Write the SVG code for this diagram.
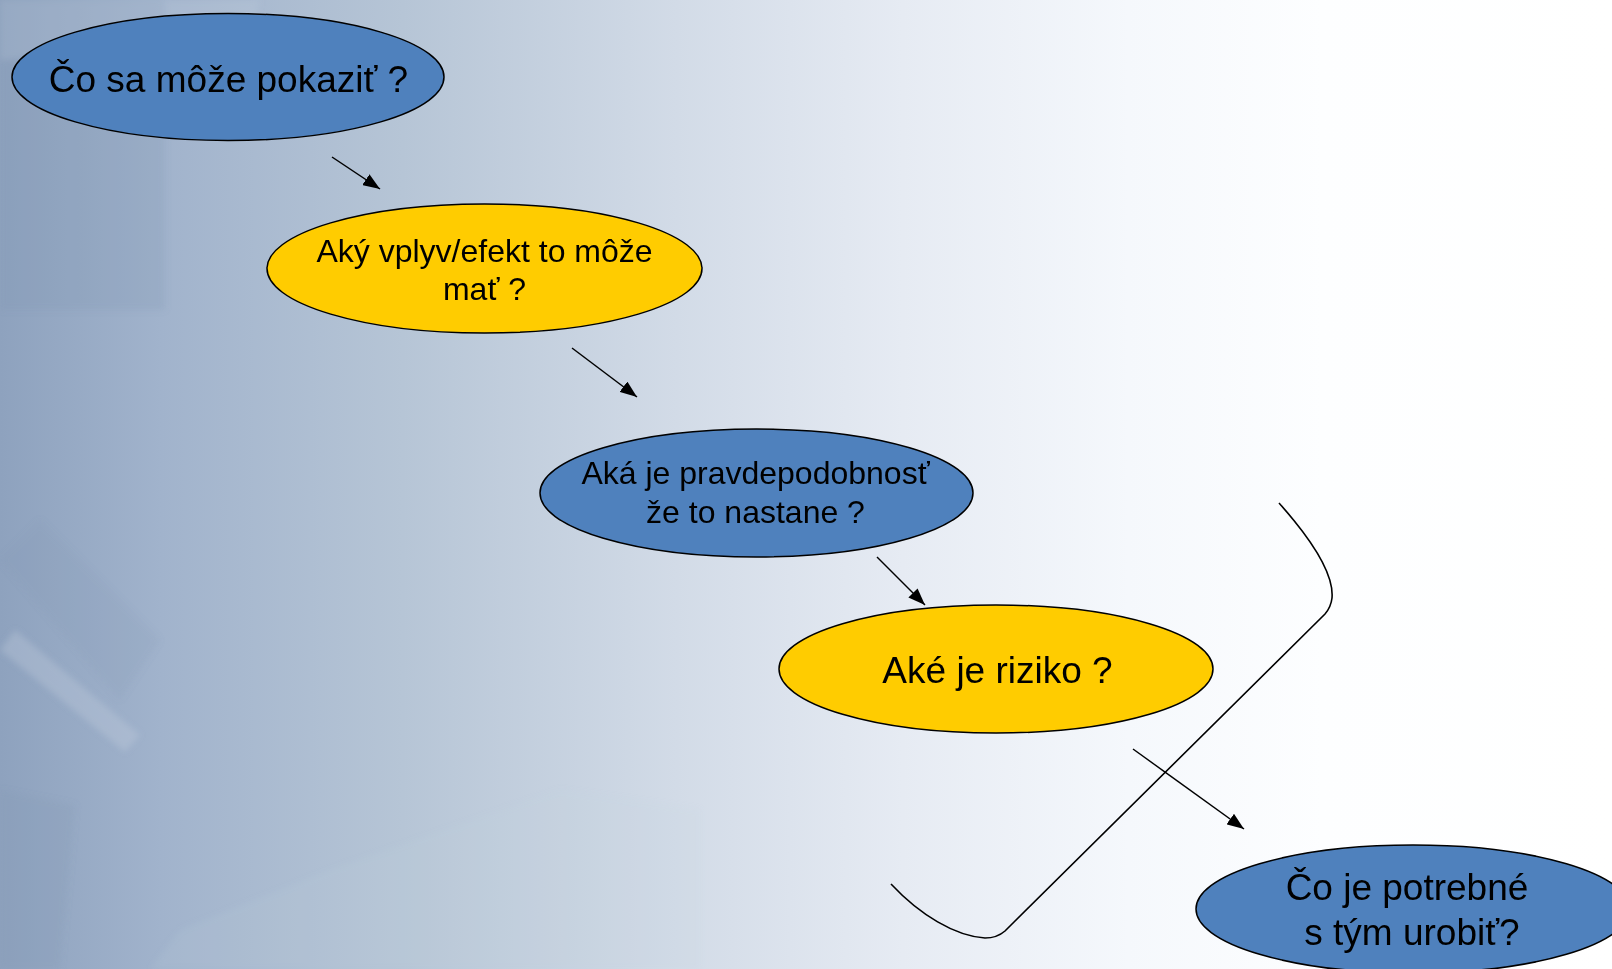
<svg xmlns="http://www.w3.org/2000/svg" width="1612" height="969" viewBox="0 0 1612 969">
  <defs>
    <linearGradient id="bg" x1="0" y1="0" x2="1612" y2="0" gradientUnits="userSpaceOnUse">
      <stop offset="0" stop-color="#8ea2be"/>
      <stop offset="0.1" stop-color="#a1b3cc"/>
      <stop offset="0.25" stop-color="#b6c5d6"/>
      <stop offset="0.42" stop-color="#d2dbe7"/>
      <stop offset="0.56" stop-color="#e6ebf3"/>
      <stop offset="0.7" stop-color="#f5f8fc"/>
      <stop offset="0.82" stop-color="#fdfeff"/>
      <stop offset="1" stop-color="#ffffff"/>
    </linearGradient>
    <marker id="arrow" viewBox="0 0 17 13" refX="17" refY="6.5" markerWidth="17" markerHeight="13" markerUnits="userSpaceOnUse" orient="auto">
      <path d="M0,0 L17,6.5 L0,13 Z" fill="#000"/>
    </marker>
    <filter id="soft" x="-10%" y="-10%" width="120%" height="120%">
      <feGaussianBlur stdDeviation="3"/>
    </filter>
  </defs>
  <style>
    .node-blue { fill: #4f81bd; stroke: #000; stroke-width: 1.5; }
    .node-yellow { fill: #ffcc00; stroke: #000; stroke-width: 1.5; }
    .label { font-family: "Liberation Sans", Arial, sans-serif; fill: #000; text-anchor: middle; }
    .big { font-size: 37px; }
    .mid { font-size: 32px; }
    .edge { fill: none; stroke: #000; stroke-width: 1.5; }
    .bracket { fill: none; stroke: #000; stroke-width: 1.6; }
    .plane { fill: #7f95b3; }
    .light { fill: #c6d2e1; }
  </style>

  <!-- background: pale blue fading to white, with faint architectural planes on the left -->
  <g id="background">
    <rect x="0" y="0" width="1612" height="969" fill="url(#bg)"/>
    <g filter="url(#soft)">
      <rect class="plane" x="0" y="0" width="165" height="310" opacity="0.22"/>
      <path class="plane" d="M0,560 L120,700 L160,640 L40,520 Z" opacity="0.14"/>
      <path class="plane" d="M0,790 L75,805 L60,969 L0,969 Z" opacity="0.18"/>
      <path class="light" d="M15,630 L140,735 L125,752 L0,650 Z" opacity="0.3"/>
      <path class="light" d="M0,0 L260,0 L250,40 L0,60 Z" opacity="0.2"/>
      <path class="light" d="M180,930 L330,870 L560,790 L700,810 L700,969 L150,969 Z" opacity="0.12"/>
    </g>
  </g>

  <g id="connectors">
    <path class="edge" d="M332,157 L380,189" marker-end="url(#arrow)"/>
    <path class="edge" d="M572,348 L637,397" marker-end="url(#arrow)"/>
    <path class="edge" d="M877,557 L925,605" marker-end="url(#arrow)"/>
    <path class="edge" d="M1133,749 L1244,829" marker-end="url(#arrow)"/>
    <!-- loop-back bracket -->
    <path class="bracket" d="M1279,503 C1312,540 1334,575 1332,598 Q1331,607 1325,614 L1005,931 Q997,938 985,938 C955,936 920,915 891,884"/>
  </g>

  <g id="node-pokazit">
    <ellipse class="node-blue" cx="228" cy="77" rx="216" ry="63.5"/>
    <text class="label big" x="228.5" y="92">Čo sa môže pokaziť ?</text>
  </g>

  <g id="node-vplyv">
    <ellipse class="node-yellow" cx="484.5" cy="268.5" rx="217.5" ry="64.5"/>
    <text class="label mid" x="484.5" y="262">Aký vplyv/efekt to môže</text>
    <text class="label mid" x="484.5" y="300">mať ?</text>
  </g>

  <g id="node-pravdepodobnost">
    <ellipse class="node-blue" cx="756.5" cy="493" rx="216.5" ry="64"/>
    <text class="label mid" x="755.5" y="484">Aká je pravdepodobnosť</text>
    <text class="label mid" x="755.5" y="523">že to nastane ?</text>
  </g>

  <g id="node-riziko">
    <ellipse class="node-yellow" cx="996" cy="669" rx="217" ry="64"/>
    <text class="label big" x="997.5" y="683">Aké je riziko ?</text>
  </g>

  <g id="node-urobit">
    <ellipse class="node-blue" cx="1413" cy="909" rx="217" ry="64"/>
    <text class="label big" x="1407" y="900">Čo je potrebné</text>
    <text class="label big" x="1412" y="945">s tým urobiť?</text>
  </g>
</svg>
